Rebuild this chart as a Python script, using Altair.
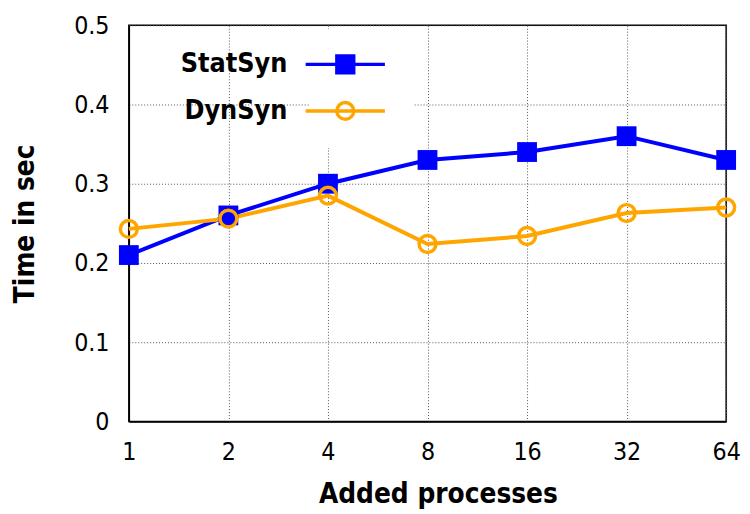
import altair as alt
import pandas as pd

x_vals = [1, 2, 4, 8, 16, 32, 64]
stat_syn = [0.21, 0.26, 0.30, 0.33, 0.34, 0.36, 0.33]
dyn_syn = [0.243, 0.256, 0.285, 0.224, 0.234, 0.263, 0.27]
series_names = ["StatSyn", "DynSyn"]
y_ticks = [0, 0.1, 0.2, 0.3, 0.4, 0.5]

FONT = "Liberation Sans Narrow, DejaVu Sans Condensed, sans-serif"
BLUE = "#0000ff"
ORANGE = "#ffa500"

df = pd.DataFrame({
    "x": x_vals * 2,
    "y": stat_syn + dyn_syn,
    "series": ["StatSyn"] * len(x_vals) + ["DynSyn"] * len(x_vals),
})

xscale = alt.Scale(type="log", base=2, domain=[1, 64], nice=False)
yscale = alt.Scale(domain=[0, 0.5], nice=False)

xax = alt.Axis(values=x_vals, format="d", title="Added processes", grid=True,
               gridDash=[1, 2], gridColor="#555555", gridWidth=1, labelFlush=False,
               ticks=False, labelPadding=18, titleY=60, titleX=312)
yax = alt.Axis(values=y_ticks, title="Time in sec", grid=True,
               gridDash=[1, 2], gridColor="#555555", gridWidth=1,
               ticks=False, labelPadding=20, titleX=-104, titleY=200,
               titleBaseline="middle",
               labelExpr="datum.value == 0 ? '0' : format(datum.value, '.1f')")

# legend symbols: line with a (solidly stroked) square, line with an open circle
legend_paths = [
    "M-4,0H4M-0.85,-0.85H0.85V0.85H-0.85ZM-0.55,-0.55H0.55V0.55H-0.55ZM-0.25,-0.25H0.25V0.25H-0.25Z",
    "M-4,0H4M0.85,0A0.85,0.85,0,1,1,-0.85,0A0.85,0.85,0,1,1,0.85,0",
]

base = alt.Chart(df)

lines = base.mark_line(strokeWidth=4).encode(
    x=alt.X("x:Q", scale=xscale, axis=xax),
    y=alt.Y("y:Q", scale=yscale, axis=yax),
    color=alt.Color("series:N", scale=alt.Scale(domain=series_names, range=[BLUE, ORANGE]),
                    legend=alt.Legend(title=None, orient="none", legendX=183, legendY=4,
                                      labelAlign="right", labelOffset={"expr": "-72"},
                                      labelFont=FONT, labelFontSize=27, labelFontWeight="bold",
                                      labelColor="black", symbolSize=400, symbolStrokeWidth=3.5,
                                      symbolOpacity=1, rowPadding=16, labelLimit=300,
                                      fillColor="white", padding=22)),
    detail="series:N",
)

pts_stat = base.transform_filter(alt.datum.series == "StatSyn").mark_point(
    shape="square", filled=True, size=400, color=BLUE, opacity=1
).encode(x="x:Q", y="y:Q")

pts_dyn = base.transform_filter(alt.datum.series == "DynSyn").mark_point(
    shape="circle", filled=False, size=290, color=ORANGE, strokeWidth=3.5, opacity=1
).encode(x="x:Q", y="y:Q")

leg = base.mark_point(opacity=0).encode(
    x="x:Q", y="y:Q",
    fill=alt.Fill("series:N", scale=alt.Scale(domain=series_names, range=[BLUE, "transparent"])),
    shape=alt.Shape("series:N", scale=alt.Scale(domain=series_names, range=legend_paths)),
)

chart = alt.layer(lines, pts_stat, pts_dyn, leg).properties(
    width=603, height=400,
    autosize="none",
    padding={"left": 122, "top": 15, "right": 16, "bottom": 90},
).configure_view(stroke="black", strokeWidth=1.5).configure_axis(
    domainColor="black", domainWidth=1.5,
    labelFont=FONT, labelFontSize=25, labelColor="black",
    titleFont=FONT, titleFontSize=28, titleFontWeight="bold", titleColor="black",
)

chart.save("out.html", embed_options={"renderer": "svg", "actions": False})
